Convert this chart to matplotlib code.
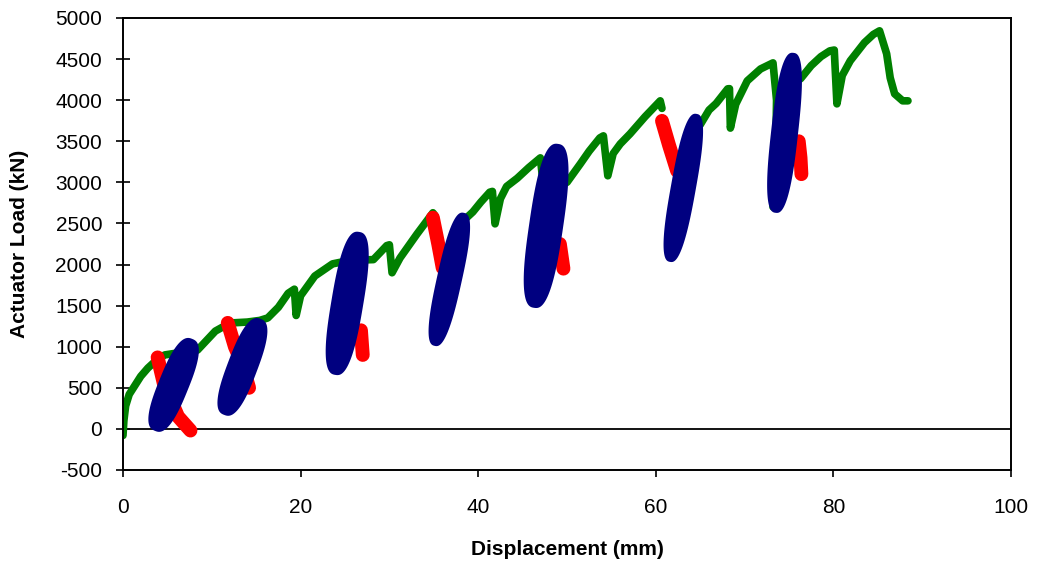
import numpy as np
import matplotlib
matplotlib.use("Agg")
import matplotlib.pyplot as plt

plt.rcParams['font.family'] = ['Liberation Sans', 'DejaVu Sans']
plt.rcParams['axes.unicode_minus'] = False

# envelope (monotonic push) - NaN where the trace runs behind a cyclic band
env_x = [0.0, 0.1, 0.3, 0.7, 1.35, 2.0, 2.8, 3.7, 4.7, 6.5, 8.4, 10.4, 11.4, 12.3,
         14.0, 15.4, 16.3, 17.5, 18.6, 19.3, 19.5, 20.0, 21.6, 23.6, 25.5, 28.2,
         29.0, 29.7, 30.0, 30.3, 31.2, 33.1, 34.9, 35.1, np.nan,
         38.6, 39.4, 40.3, 41.3, 41.6, 41.9, 42.5, 43.2, 44.4, 45.7, 47.0, 47.2, np.nan,
         50.0, 51.5, 52.5, 53.7, 54.1, 54.6, 55.2, 56.0, 57.1, 58.8, 60.5, 60.7, np.nan,
         65.0, 66.0, 66.8, 68.1, 68.3, 68.4, 69.0, 70.3, 71.8, 73.2, 73.6, 73.5, 73.2, np.nan,
         76.3, 77.5, 78.6, 79.6, 80.1, 80.4, 81.0, 81.9, 83.5, 84.5, 85.2, 86.0,
         86.4, 86.9, 87.8, 88.4]
env_y = [-80, 100, 280, 420, 530, 640, 740, 830, 900, 930, 960, 1190, 1250, 1290,
         1300, 1320, 1350, 1480, 1650, 1700, 1380, 1620, 1860, 2008, 2050, 2060,
         2150, 2230, 2240, 1900, 2080, 2370, 2630, 2600, np.nan,
         2560, 2640, 2760, 2880, 2890, 2495, 2800, 2950, 3050, 3180, 3298, 3100, np.nan,
         3000, 3225, 3380, 3541, 3566, 3080, 3350, 3468, 3590, 3800, 3992, 3900, np.nan,
         3700, 3880, 3960, 4138, 4140, 3660, 3950, 4235, 4380, 4454, 4000, 3300, 2700, np.nan,
         4260, 4420, 4530, 4600, 4610, 3955, 4300, 4479, 4700, 4800, 4844, 4564,
         4272, 4077, 3992, 3992]

# cyclic bands: lower tip and upper tip of each dense load/unload band
cyc_x0 = [3.6, 11.4, 23.9, 35.1, 46.3, 61.6, 73.5]
cyc_y0 = [-24, 170, 657, 1010, 1473, 2032, 2629]
cyc_x1 = [7.8, 15.5, 26.6, 38.4, 49.0, 64.6, 75.5]
cyc_y1 = [1095, 1339, 2397, 2629, 3468, 3833, 4576]
cyc_w = [30, 30, 32, 25, 34, 25, 27]  # band thickness, px

# unloading branches
unl_x = [
    [3.9, 4.6, 6.2, 7.6],
    [11.8, 12.6, 13.4, 14.2],
    [26.8, 26.9, 27.0],
    [34.9, 35.5, 36.0],
    [49.2, 49.4, 49.6],
    [60.7, 61.5, 62.4],
    [76.1, 76.3, 76.4],
]
unl_y = [
    [870, 550, 150, -20],
    [1290, 1000, 800, 500],
    [1200, 1050, 900],
    [2570, 2250, 1960],
    [2250, 2100, 1950],
    [3748, 3450, 3140],
    [3500, 3300, 3100],
]

fig = plt.figure(figsize=(10.37, 5.71), dpi=100)
ax = fig.add_axes([0.1186, 0.1769, 0.8563, 0.7916])
ax.set_xlim(0, 100)
ax.set_ylim(-500, 5000)

ax.axhline(0, color='black', lw=1.3, zorder=1)

ax.plot(env_x, env_y, color='#008000', lw=5.5, solid_joinstyle='round',
        solid_capstyle='round', zorder=2)
for xs, ys in zip(unl_x, unl_y):
    ax.plot(xs, ys, color='#ff0000', lw=10, solid_capstyle='round',
            solid_joinstyle='round', zorder=3)

# rounded band between the two tips, built in pixel space so the width is even
t = np.linspace(0, 2 * np.pi, 120)
ct = np.sign(np.cos(t)) * np.abs(np.cos(t)) ** 0.75
st = np.sign(np.sin(t)) * np.abs(np.sin(t)) ** 0.75
inv = ax.transData.inverted()
for x0, y0, x1, y1, w in zip(cyc_x0, cyc_y0, cyc_x1, cyc_y1, cyc_w):
    p0, p1 = ax.transData.transform([(x0, y0), (x1, y1)])
    c = (p0 + p1) / 2
    a = (p1 - p0) / 2
    n = np.array([-a[1], a[0]]) / np.hypot(*a) * w / 2
    pts = c + np.outer(ct, a) + np.outer(st, n)
    d = inv.transform(pts)
    ax.fill(d[:, 0], d[:, 1], color='#000080', lw=0, zorder=4)

ax.set_xticks(range(0, 101, 20))
ax.set_yticks(range(-500, 5001, 500))
ax.tick_params(axis='y', direction='inout', length=10, width=1.2, labelsize=15, pad=10)
ax.tick_params(axis='x', direction='out', length=5, width=1.2, labelsize=15, pad=15)
for s in ax.spines.values():
    s.set_linewidth(1.4)

ax.set_xlabel('Displacement (mm)', fontsize=15, fontweight='bold', va='center')
ax.set_ylabel('Actuator Load (kN)', fontsize=15, fontweight='bold', va='center')
ax.xaxis.set_label_coords(0.5, -0.177)
ax.yaxis.set_label_coords(-0.116, 0.5)

fig.savefig('out.png', dpi=100, facecolor='white')
